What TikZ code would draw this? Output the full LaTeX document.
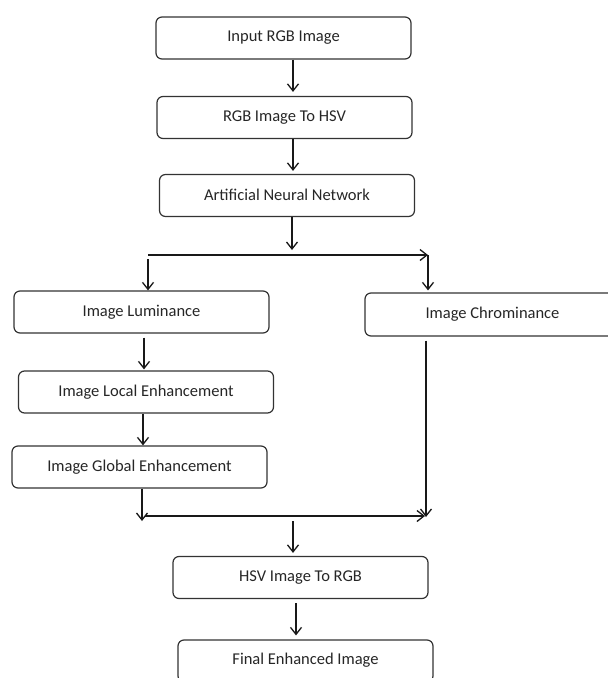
\documentclass[tikz,border=0pt]{standalone}
\usepackage{fontspec}
\setmainfont{Carlito}
\usetikzlibrary{arrows.meta}
\begin{document}
\begin{tikzpicture}[x=1pt,y=-1pt,
  box/.style={draw=black!80, line width=1.2pt, rounded corners=6pt, minimum width=255pt, minimum height=42pt, inner sep=0pt, text=black!85, font=\fontsize{16.5}{20}\selectfont},
  arr/.style={draw=black!90, line width=1.3pt, -{Straight Barb[length=7pt,width=11pt,line width=1.3pt]}},
  ln/.style={draw=black!90, line width=1.3pt}]
\path[use as bounding box] (0,0) rectangle (608,678);
\clip (0,0) rectangle (608,678);
\node[box] (in)    at (283.5,38)   {\raisebox{1.5pt}{Input RGB Image}};
\node[box] (hsv)   at (284.5,117.5) {\raisebox{1.5pt}{RGB Image To HSV}};
\node[box] (ann)   at (287,195.5)  {\raisebox{1.5pt}{Artificial Neural Network}};
\node[box] (lum)   at (141.5,312)  {\raisebox{1.5pt}{Image Luminance}};
\node[box, minimum height=43pt] (chrom) at (492.5,314.5) {\raisebox{1pt}{Image Chrominance}};
\node[box] (loc)   at (146,392)    {\raisebox{1.5pt}{Image Local Enhancement}};
\node[box] (glob)  at (139.5,467)  {\raisebox{2pt}{Image Global Enhancement}};
\node[box] (rgb)   at (300.5,577.5) {\raisebox{1.5pt}{HSV Image To RGB}};
\node[box] (fin)   at (305.5,661)  {\raisebox{4pt}{Final Enhanced Image}};
% coordinates
\coordinate (c1) at (293,0);
\coordinate (c2) at (292,0);
\coordinate (hl) at (148,255);
\coordinate (hr) at (428,255);
\coordinate (c3) at (144,0);
\coordinate (c4) at (143,0);
\coordinate (c5) at (142,0);
\coordinate (bl) at (145,516);
\coordinate (br) at (425,516);
\coordinate (c6) at (426,0);
\coordinate (mj) at (293,521);
\coordinate (c7) at (296,0);
% connectors
\draw[arr, shorten >=4pt] (in.south -| c1) -- (hsv.north -| c1);
\draw[arr, shorten >=3pt] (hsv.south -| c1) -- (ann.north -| c1);
\draw[arr, shorten >=5pt] (ann.south -| c2) -- (hl -| c2);
\draw[arr] (hl) -- (hr);
\draw[arr, shorten >=2pt] (hr) -- (chrom.north -| hr);
\draw[arr, shorten <=4pt] (hl) -- (lum.north -| hl);
\draw[arr, shorten <=4pt, shorten >=1pt] (lum.south -| c3) -- (loc.north -| c3);
\draw[arr] (loc.south -| c4) -- (glob.north -| c4);
\draw[arr, shorten >=-5pt] (glob.south -| c5) -- (bl -| c5);
\draw[arr] (bl) -- (br);
\draw[arr, shorten <=4pt, shorten >=-1pt] (chrom.south -| c6) -- (br -| c6);
\draw[arr, shorten >=3pt] (mj) -- (rgb.north -| mj);
\draw[arr, shorten <=4pt, shorten >=4pt] (rgb.south -| c7) -- (fin.north -| c7);
\end{tikzpicture}
\end{document}
